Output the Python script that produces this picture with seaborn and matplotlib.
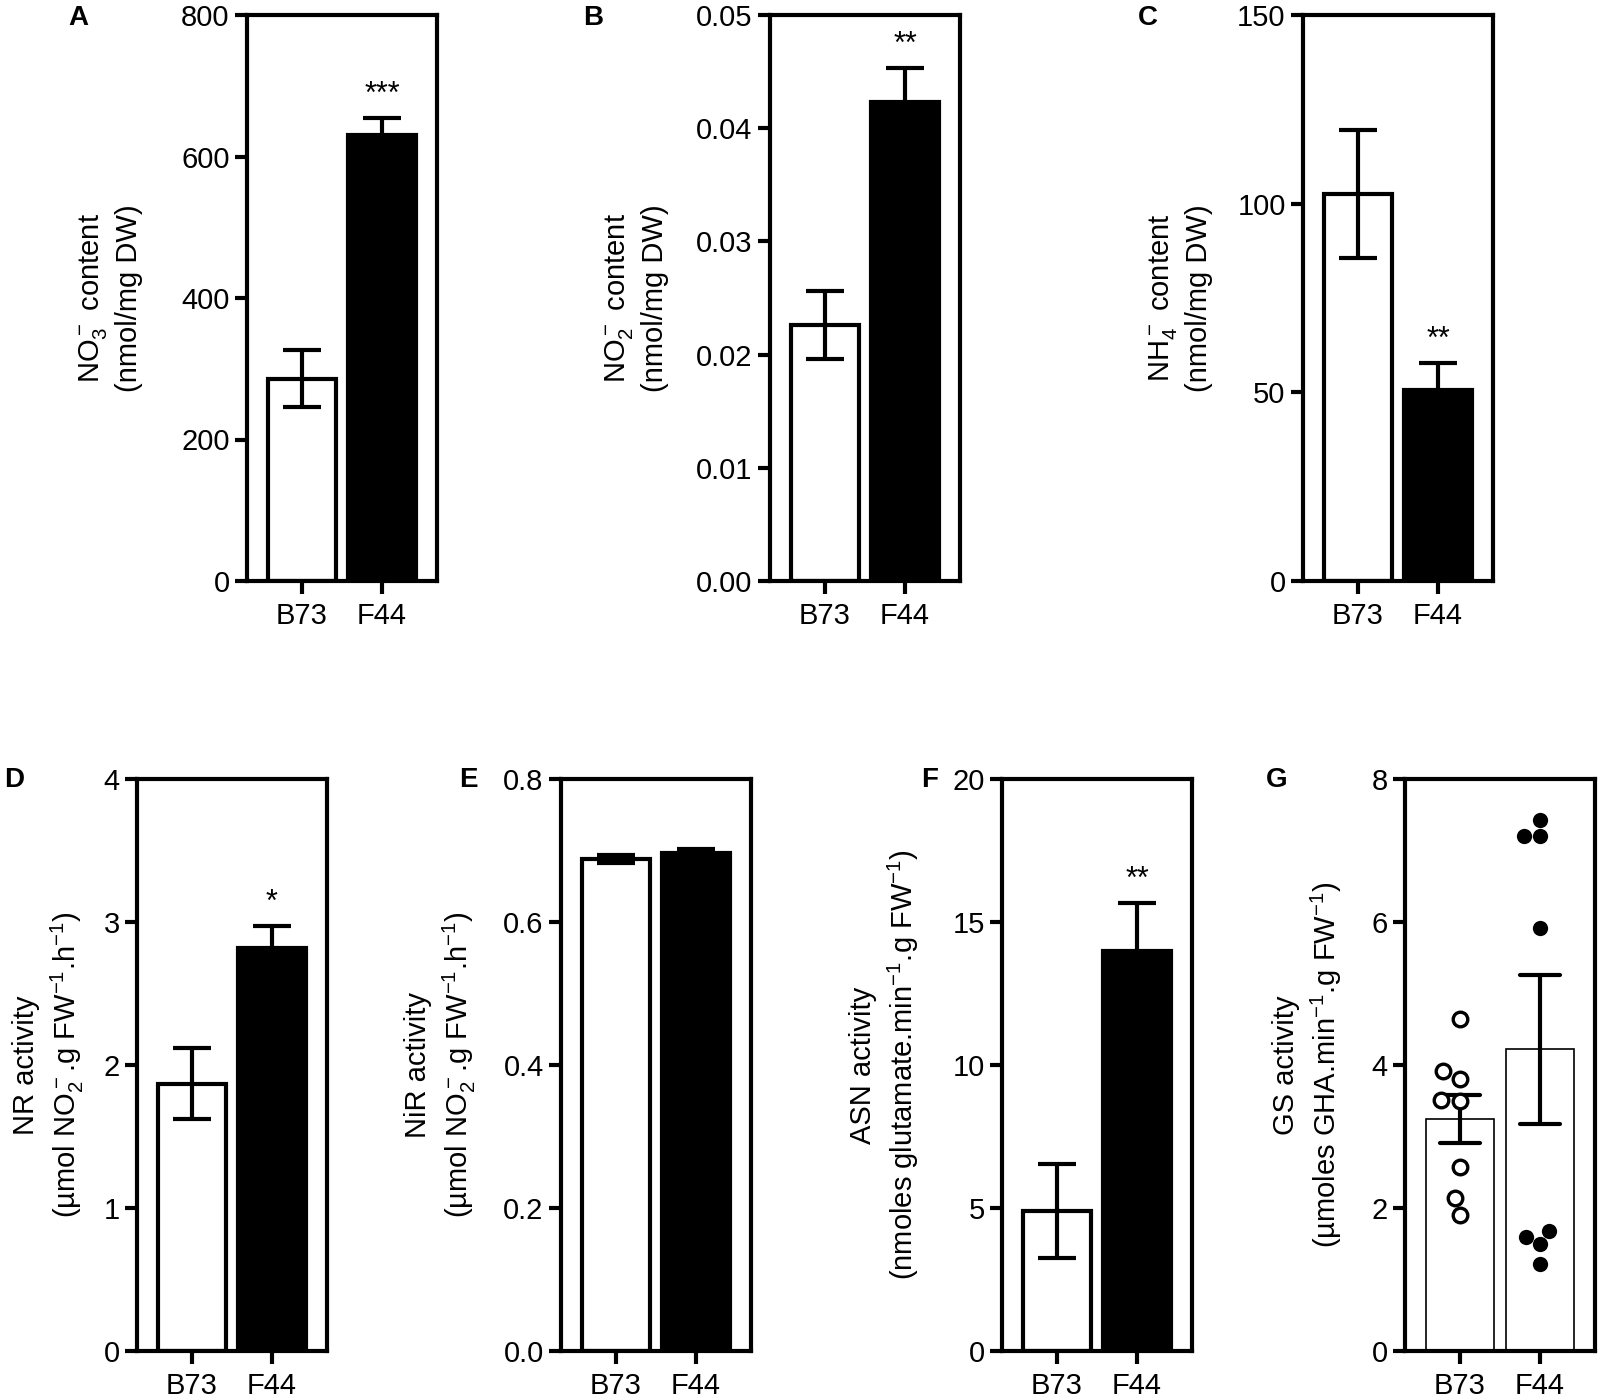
import pandas as pd
import seaborn as sns
import matplotlib.pyplot as plt
from matplotlib.ticker import FormatStrFormatter

# genotypes
lines = ['B73', 'F44']

# panels A-F: mean and SE
no3_mean = [286, 630]
no3_se = [40, 24]
no2_mean = [0.0226, 0.0423]
no2_se = [0.0030, 0.0030]
nh4_mean = [102.5, 50.5]
nh4_se = [17.0, 7.3]
nr_mean = [1.87, 2.82]
nr_se = [0.25, 0.15]
nir_mean = [0.688, 0.696]
nir_se = [0.006, 0.006]
asn_mean = [4.9, 14.0]
asn_se = [1.65, 1.65]

# panel G: individual measurements
gs_b73 = [4.65, 3.92, 3.81, 3.49, 3.51, 2.57, 1.90, 2.14]
gs_f44 = [7.20, 7.20, 7.43, 5.92, 1.68, 1.50, 1.60, 1.22]

stars = ['***', '**', '**', '*', '', '**']

sns.set_style('ticks')
plt.rcParams['font.family'] = ['Liberation Sans', 'DejaVu Sans']
plt.rcParams['mathtext.default'] = 'regular'
for k in ['axes.edgecolor', 'axes.labelcolor', 'text.color',
          'xtick.color', 'ytick.color']:
    plt.rcParams[k] = 'black'
plt.rcParams['axes.linewidth'] = 3
plt.rcParams['xtick.major.width'] = 3
plt.rcParams['ytick.major.width'] = 3
plt.rcParams['xtick.major.size'] = 9
plt.rcParams['ytick.major.size'] = 9
plt.rcParams['xtick.labelsize'] = 21
plt.rcParams['ytick.labelsize'] = 21

W, H = 1600, 1398
AXW = 190
fig = plt.figure(figsize=(W / 100, H / 100), dpi=100)


def make_ax(left, top, bottom):
    return fig.add_axes([left / W, 1 - bottom / H, AXW / W, (bottom - top) / H])


def finish(ax, ymax, step, fmt, ylabel, label_off):
    ax.set_xlim(-0.6875, 1.6875)
    ax.set_ylim(0, ymax)
    ax.set_yticks([i * step for i in range(int(round(ymax / step)) + 1)])
    ax.yaxis.set_major_formatter(FormatStrFormatter(fmt))
    ax.set_xlabel('')
    ax.set_ylabel(ylabel, fontsize=21, linespacing=1.3, va='center')
    ax.yaxis.set_label_coords(label_off / AXW, 0.5)
    for s in ax.spines.values():
        s.set_visible(True)
        s.set_linewidth(3)
        s.set_color('black')
    ax.tick_params(axis='x', pad=6)


def bar_panel(ax, means, ses, star):
    df = pd.DataFrame({'line': lines, 'value': means})
    sns.barplot(data=df, x='line', y='value', hue='line', order=lines,
                palette={'B73': 'white', 'F44': 'black'}, edgecolor='black',
                linewidth=3, width=0.84, legend=False, ax=ax)
    ax.errorbar([0, 1], means, yerr=ses, fmt='none', ecolor='black',
                elinewidth=3, capsize=14, capthick=3, zorder=5)
    if star:
        top = means[1] + ses[1]
        ax.text(1, top + ax.get_ylim()[1] * 0.015, star, ha='center', va='bottom',
                fontsize=22)


panels = [
    (247, 15, 581, no3_mean, no3_se, 800, 200, '%d',
     'NO$_3^-$ content\n(nmol/mg DW)', -137),
    (770, 15, 581, no2_mean, no2_se, 0.05, 0.01, '%.2f',
     'NO$_2^-$ content\n(nmol/mg DW)', -134),
    (1303, 15, 581, nh4_mean, nh4_se, 150, 50, '%d',
     'NH$_4^-$ content\n(nmol/mg DW)', -123),
    (137, 779, 1351, nr_mean, nr_se, 4, 1, '%d',
     'NR activity\n(µmol NO$_2^-$.g FW$^{-1}$.h$^{-1}$)', -88),
    (561, 779, 1351, nir_mean, nir_se, 0.8, 0.2, '%.1f',
     'NiR activity\n(µmol NO$_2^-$.g FW$^{-1}$.h$^{-1}$)', -120),
    (1002, 779, 1351, asn_mean, asn_se, 20, 5, '%d',
     'ASN activity\n(nmoles glutamate.min$^{-1}$.g FW$^{-1}$)', -117),
]

for (left, top, bottom, m, se, ymax, step, fmt, lab, off), st in zip(panels, stars):
    ax = make_ax(left, top, bottom)
    ax.set_ylim(0, ymax)
    bar_panel(ax, m, se, st)
    finish(ax, ymax, step, fmt, lab, off)

# panel G: bars with SE plus individual points
ax = make_ax(1405, 779, 1351)
gdf = pd.DataFrame({'line': ['B73'] * len(gs_b73) + ['F44'] * len(gs_f44),
                    'value': gs_b73 + gs_f44})
sns.barplot(data=gdf, x='line', y='value', order=lines, errorbar='se',
            color='white', edgecolor='black', linewidth=1.2, width=0.84,
            capsize=0.5, err_kws={'color': 'black', 'linewidth': 3}, ax=ax)
sns.swarmplot(data=gdf[gdf['line'] == 'B73'], x='line', y='value', order=lines,
              color='white', edgecolor='black', linewidth=2.4, size=10.5, ax=ax)
sns.swarmplot(data=gdf[gdf['line'] == 'F44'], x='line', y='value', order=lines,
              color='black', size=11, ax=ax)
finish(ax, 8, 2, '%d', 'GS activity\n(µmoles GHA.min$^{-1}$.g FW$^{-1}$)', -97)

# panel letters
for letter, x, y in [('A', 68, 18), ('B', 583, 18), ('C', 1138, 18),
                     ('D', 4, 780), ('E', 459, 780), ('F', 921, 780),
                     ('G', 1266, 780)]:
    fig.text(x / W, 1 - y / H, letter, fontsize=20, fontweight='bold',
             ha='left', va='center')

fig.savefig('out.png', dpi=100)
